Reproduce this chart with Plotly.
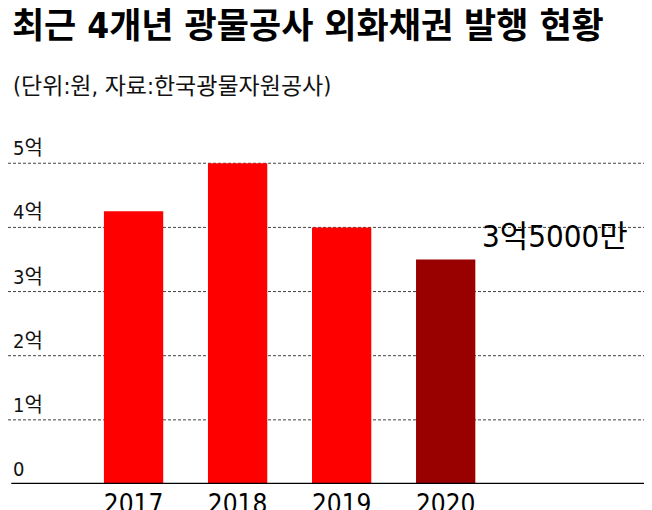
import plotly.graph_objects as go

years = ['2017', '2018', '2019', '2020']
amounts = [4.25, 5.0, 4.0, 3.5]  # 억 원
bar_colors = ['#ff0000', '#ff0000', '#ff0000', '#990000']
tick_vals = [0, 1, 2, 3, 4, 5]
tick_text = ['0', '1억', '2억', '3억', '4억', '5억']

FONT = 'DejaVu Sans Condensed, Noto Sans CJK KR, sans-serif'

fig = go.Figure(go.Bar(
    x=list(range(len(years))), y=amounts,
    marker_color=bar_colors, marker_line_width=0, width=0.57,
))

for v, t in zip(tick_vals, tick_text):
    fig.add_annotation(x=0.005, xref='paper', y=v, yref='y', text=t,
                       showarrow=False, xanchor='left', yanchor='bottom',
                       yshift=1, font=dict(size=20, color='#111', family=FONT))
    if v > 0:
        fig.add_shape(type='line', xref='paper', x0=0, x1=1, y0=v, y1=v,
                      line=dict(color='#444', width=1, dash='3px,2px'), layer='below')

fig.add_annotation(x=4.05, y=3.86, text='3억5000만', showarrow=False,
                   font=dict(size=31, color='black', family=FONT))

fig.update_layout(
    width=652, height=510,
    margin=dict(l=0, r=0, t=136, b=34, autoexpand=False),
    paper_bgcolor='white', plot_bgcolor='white',
    showlegend=False,
    title=dict(text='<b>최근 4개년 광물공사 외화채권 발행 현황</b>', x=0.006, xanchor='left',
               y=0.99, yanchor='top', font=dict(size=35, color='black', family=FONT)),
    xaxis=dict(range=[-1.207, 5.06], tickvals=list(range(len(years))), ticktext=years,
               showgrid=False, zeroline=False, showline=False, ticks='',
               automargin=False, ticklabelstandoff=2,
               tickfont=dict(size=26, color='black', family=FONT)),
    yaxis=dict(range=[0, 5.3], showticklabels=False, showgrid=False, zeroline=False,
               automargin=False),
)
fig.add_shape(type='line', xref='paper', x0=0.005, x1=1, y0=0, y1=0,
              line=dict(color='black', width=2.5))
fig.add_annotation(x=0.005, xref='paper', y=1, yref='paper', yshift=58,
                   text='(단위:원, 자료:한국광물자원공사)', showarrow=False,
                   xanchor='left', yanchor='middle',
                   font=dict(size=23, color='#111', family=FONT))

fig.write_html('out.html')
